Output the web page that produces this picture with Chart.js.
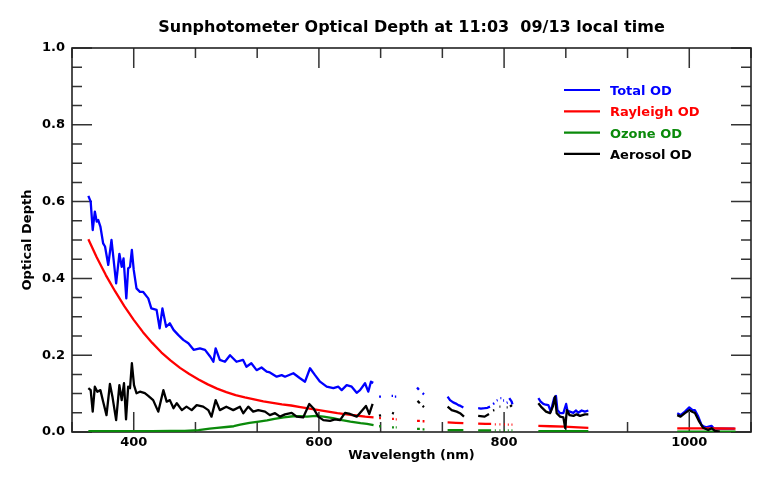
<!DOCTYPE html>
<html>
<head>
<meta charset="utf-8">
<title>Sunphotometer Optical Depth</title>
<script src="https://cdn.jsdelivr.net/npm/chart.js@4.4.1/dist/chart.umd.min.js"></script>
<style>
    html, body { margin: 0; padding: 0; background: #fff; }
    #wrap { width: 773px; height: 480px; position: relative; }
</style>
</head>
<body>
<div id="wrap"><canvas id="odChart"></canvas></div>
<script>
// valores (nm / profundidade óptica); null = sem dado
const titleText = 'Sunphotometer Optical Depth at 11:03  09/13 local time';
const seriesLabels = ['Total OD', 'Rayleigh OD', 'Ozone OD', 'Aerosol OD'];

const xRange = [1000 / 3, 3200 / 3];
const xTickValues = [400, 600, 800, 1000];
const yTickValues = [0.0, 0.2, 0.4, 0.6, 0.8, 1.0];

const wlTotal = [
    351, 353.5, 355.7, 358, 360, 361.7, 364, 367, 369, 372.5, 376, 381, 384.5, 387, 389, 392, 394, 396, 398, 400,
    403, 406.7, 410, 415.7, 419, 424.7, 428, 431, 435, 439, 443, 448, 453.5, 459, 464.7, 471.5, 477, 482.7, 486, 488.5,
    493, 498.5, 504, 511, 518, 521.7, 527, 532.7, 538, 543.6, 547, 554.4, 559.8, 563.4, 572.4, 579.6, 585, 590.4, 595.8, 601.2,
    608.4, 615.6, 621, 624.6, 630, 635.4, 640.8, 644.4, 649.8, 653.3, 656.2, 658.7, null,
    665, 667, null, 678.5, 680, null, 682, 683.5, null,
    706, 708, null, 712, 713.5, null,
    739, 741.6, 745, 748, 750.6, 753, 756, null,
    772, 775, 779, 782, 784.8, null, 788, 789.5, null, 792, 793, null, 796, 797, null, 799, 800, null,
    802.8, 803.8, null, 805.6, 808.2, 809, null,
    837, 839.5, 842.4, 845, 847.8, 850.4, 852.6, 854, 856, 857.6, 860.5, 864, 867, 868.3, 871, 874.8, 877.7, 880, 883.8, 887.3,
    891, null,
    987, 990.6, 995.3, 1000, 1003.6, 1006, 1009.7, 1013.3, 1016, 1018.7, 1021, 1024, 1026.6, 1030, 1035, 1040, 1045, 1049
];
const odTotal = [
    0.615, 0.600, 0.526, 0.574, 0.548, 0.552, 0.535, 0.491, 0.483, 0.435, 0.500, 0.387, 0.464, 0.430, 0.452, 0.348, 0.426, 0.430, 0.474, 0.422,
    0.374, 0.365, 0.365, 0.348, 0.322, 0.318, 0.270, 0.322, 0.274, 0.283, 0.266, 0.253, 0.240, 0.231, 0.214, 0.218, 0.214, 0.196, 0.183, 0.218,
    0.188, 0.183, 0.200, 0.183, 0.188, 0.170, 0.179, 0.161, 0.168, 0.157, 0.155, 0.144, 0.148, 0.144, 0.153, 0.140, 0.131, 0.166, 0.148, 0.131,
    0.118, 0.114, 0.118, 0.109, 0.122, 0.118, 0.102, 0.109, 0.127, 0.105, 0.131, 0.128, null,
    0.092, 0.092, null, 0.094, 0.094, null, 0.092, 0.092, null,
    0.116, 0.110, null, 0.101, 0.098, null,
    0.092, 0.083, 0.077, 0.074, 0.070, 0.068, 0.064, null,
    0.062, 0.061, 0.062, 0.063, 0.066, null, 0.073, 0.075, null, 0.082, 0.083, null, 0.088, 0.088, null, 0.082, 0.082, null,
    0.076, 0.077, null, 0.088, 0.079, 0.072, null,
    0.088, 0.079, 0.073, 0.071, 0.070, 0.053, 0.075, 0.088, 0.094, 0.057, 0.049, 0.049, 0.073, 0.057, 0.053, 0.050, 0.056, 0.050, 0.056, 0.053,
    0.056, null,
    0.049, 0.044, 0.053, 0.064, 0.057, 0.057, 0.040, 0.018, 0.014, 0.012, 0.014, 0.016, 0.009, 0.009, 0.009, 0.009, 0.009, 0.009
];

const wlRayleigh = [
    351, 360, 370, 380, 390, 400, 410, 420, 430, 440, 450, 460, 470, 480, 490, 500, 510, 520, 530, 540,
    550, 560, 570, 580, 590, 600, 610, 620, 630, 640, 650, 659, null,
    665, 667, null, 679, 681, null, 683, 684, null,
    706, 709, null, 712, 714, null,
    739, 748, 756, null,
    772, 780, 786, null, 790, 791, null, 795, 796, null, 800, 801, null, 804, 805, null, 808, 809, null,
    837, 850, 865, 880, 891, null,
    987, 1000, 1020, 1035, 1050
];
const odRayleigh = [
    0.502, 0.455, 0.408, 0.366, 0.327, 0.292, 0.260, 0.232, 0.207, 0.186, 0.167, 0.151, 0.137, 0.124, 0.113, 0.104, 0.096, 0.090, 0.085, 0.080,
    0.076, 0.072, 0.069, 0.065, 0.061, 0.057, 0.053, 0.049, 0.046, 0.043, 0.040, 0.038, null,
    0.036, 0.036, null, 0.034, 0.034, null, 0.033, 0.033, null,
    0.029, 0.029, null, 0.028, 0.028, null,
    0.025, 0.024, 0.023, null,
    0.022, 0.021, 0.021, null, 0.020, 0.020, null, 0.020, 0.020, null, 0.020, 0.020, null, 0.019, 0.019, null, 0.019, 0.019, null,
    0.016, 0.015, 0.014, 0.012, 0.011, null,
    0.0095, 0.0093, 0.0092, 0.0091, 0.009
];

const wlOzone = [
    351, 380, 400, 420, 440, 455, 470, 482, 490, 500, 508, 515, 525, 535, 544, 552, 562, 572, 580, 587,
    597, 605, 615, 625, 634, 645, 652, 659, null,
    665, 667, null, 679, 681, null, 683, 684, null,
    706, 709, null, 712, 714, null,
    739, 756, null,
    772, 786, null, 790, 791, null, 795, 796, null, 800, 801, null, 804, 805, null, 808, 809, null,
    837, 891, null,
    987, 1050
];
const odOzone = [
    0.002, 0.002, 0.002, 0.002, 0.003, 0.003, 0.005, 0.009, 0.011, 0.013, 0.015, 0.019, 0.024, 0.027, 0.030, 0.034, 0.038, 0.041, 0.041, 0.040,
    0.042, 0.040, 0.036, 0.031, 0.027, 0.023, 0.021, 0.018, null,
    0.015, 0.015, null, 0.012, 0.012, null, 0.012, 0.012, null,
    0.008, 0.008, null, 0.007, 0.007, null,
    0.005, 0.005, null,
    0.004, 0.004, null, 0.004, 0.004, null, 0.004, 0.004, null, 0.004, 0.004, null, 0.004, 0.004, null, 0.004, 0.004, null,
    0.002, 0.002, null,
    0.001, 0.001
];

const wlAerosol = [
    351, 353.5, 355.7, 358, 360.7, 364, 367, 370.6, 374.3, 377, 381, 384.5, 387, 389.5, 391.7, 394, 396, 398, 400.3, 403,
    406.7, 412, 415.7, 421, 426.5, 432, 435.6, 439, 443, 446.5, 452, 457, 462.6, 468, 475, 480.5, 484, 488.5, 493, 500,
    507.5, 514.7, 518.3, 523.7, 529, 534.5, 541.8, 547, 552.6, 558, 563.4, 570.6, 576, 583, 589.6, 594, 599.3, 604.8, 612, 617.4,
    622.8, 628.2, 633.6, 640.8, 646.2, 650.8, 654.4, 658, null,
    665, 667, null, 679, 681, null,
    706.5, 709, null, 712, 713.5, null,
    739, 743.4, 748.8, 752.4, 756.7, null,
    772, 779, 783.7, null, 788, 789.5, null, 795, 796, null, 802.8, 803.8, null, 806.4, 808.5, null,
    837, 840.6, 845.3, 849.6, 852.6, 855, 856.8, 860.5, 864, 866, 867.8, 870.7, 875, 878.3, 882, 887.3, 891, null,
    987, 990.6, 995.3, 1000, 1003.6, 1006, 1010.8, 1015, 1020.4, 1024, 1027.6, 1033
];
const odAerosol = [
    0.114, 0.109, 0.053, 0.118, 0.105, 0.109, 0.079, 0.044, 0.125, 0.092, 0.031, 0.122, 0.083, 0.127, 0.033, 0.118, 0.114, 0.179, 0.122, 0.101,
    0.105, 0.101, 0.094, 0.083, 0.053, 0.109, 0.079, 0.083, 0.062, 0.075, 0.057, 0.066, 0.057, 0.070, 0.066, 0.057, 0.040, 0.083, 0.057, 0.066,
    0.057, 0.066, 0.049, 0.066, 0.053, 0.057, 0.053, 0.044, 0.049, 0.040, 0.046, 0.050, 0.040, 0.038, 0.073, 0.062, 0.040, 0.031, 0.029, 0.033,
    0.031, 0.050, 0.047, 0.040, 0.055, 0.068, 0.047, 0.073, null,
    0.042, 0.044, null, 0.050, 0.048, null,
    0.081, 0.075, null, 0.068, 0.065, null,
    0.066, 0.057, 0.053, 0.049, 0.040, null,
    0.042, 0.040, 0.047, null, 0.056, 0.057, null, 0.066, 0.066, null, 0.064, 0.064, null, 0.066, 0.070, null,
    0.075, 0.064, 0.053, 0.049, 0.066, 0.092, 0.049, 0.040, 0.038, 0.010, 0.057, 0.044, 0.042, 0.046, 0.042, 0.046, 0.046, null,
    0.044, 0.040, 0.049, 0.057, 0.052, 0.050, 0.027, 0.011, 0.005, 0.010, 0.003, 0.001
];

const seriesColors = ['#0000ff', '#ff0000', '#0a8a0a', '#000000'];
const FONT = 'DejaVu Sans';

function toPoints(wl, od) {
    return wl.map(function (w, i) { return { x: w, y: od[i] }; });
}

// eixos estilo IDL: moldura completa com ticks para dentro
const frameTicks = {
    id: 'frameTicks',
    beforeDatasetsDraw(chart) {
        const { ctx, chartArea: a, scales: { x, y } } = chart;
        const minorX = 200 / 3;
        ctx.save();
        ctx.strokeStyle = '#333';
        ctx.lineWidth = 1.5;
        ctx.beginPath();
        for (let v = xRange[0]; v <= xRange[1] + 1e-6; v += minorX) {
            const px = x.getPixelForValue(v);
            const major = xTickValues.some(function (t) { return Math.abs(t - v) < 1e-6; });
            const len = major ? 20 : 10;
            ctx.moveTo(px, a.bottom); ctx.lineTo(px, a.bottom - len);
            ctx.moveTo(px, a.top); ctx.lineTo(px, a.top + len);
        }
        for (let k = 0; k <= 20; k++) {
            const v = k * 0.05;
            const py = y.getPixelForValue(v);
            const len = (k % 4 === 0) ? 20 : 10;
            ctx.moveTo(a.left, py); ctx.lineTo(a.left + len, py);
            ctx.moveTo(a.right, py); ctx.lineTo(a.right - len, py);
        }
        ctx.stroke();
        ctx.strokeStyle = '#222';
        ctx.lineWidth = 1.6;
        ctx.strokeRect(a.left, a.top, a.right - a.left, a.bottom - a.top);
        ctx.restore();
    }
};

// título centrado na área do gráfico + legenda dentro do gráfico
const titleAndLegend = {
    id: 'titleAndLegend',
    afterDraw(chart) {
        const { ctx, chartArea: a } = chart;
        ctx.save();
        ctx.fillStyle = '#000';
        ctx.font = 'bold 16px "' + FONT + '"';
        ctx.textAlign = 'center';
        ctx.textBaseline = 'alphabetic';
        ctx.fillText(titleText, (a.left + a.right) / 2, 32);

        ctx.font = 'bold 13px "' + FONT + '"';
        ctx.textAlign = 'left';
        chart.data.datasets.forEach(function (ds, i) {
            const yy = a.top + 42 + i * 21.3;
            const x0 = a.right - 187;
            ctx.strokeStyle = ds.borderColor;
            ctx.lineWidth = 2.2;
            ctx.beginPath();
            ctx.moveTo(x0, yy);
            ctx.lineTo(x0 + 36, yy);
            ctx.stroke();
            ctx.fillStyle = ds.borderColor;
            ctx.fillText(ds.label, x0 + 46, yy + 5);
        });
        ctx.restore();
    }
};

function createChart() {
    const el = document.getElementById('odChart');
    const wls = [wlTotal, wlRayleigh, wlOzone, wlAerosol];
    const ods = [odTotal, odRayleigh, odOzone, odAerosol];

    const datasets = seriesLabels.map(function (label, i) {
        return {
            label: label,
            data: toPoints(wls[i], ods[i]),
            borderColor: seriesColors[i],
            backgroundColor: seriesColors[i],
            borderWidth: 2.3,
            borderJoinStyle: 'round',
            pointRadius: 0,
            tension: 0,
            fill: false,
            spanGaps: false,
            order: 3 - i
        };
    });

    window._odChart = new Chart(el.getContext('2d'), {
        type: 'line',
        data: { datasets: datasets },
        options: {
            responsive: true,
            maintainAspectRatio: false,
            animation: false,
            layout: { padding: { left: 0, top: 48, right: 22, bottom: 0 } },
            plugins: {
                legend: { display: false },
                tooltip: { enabled: false },
                title: { display: false }
            },
            scales: {
                x: {
                    type: 'linear',
                    min: xRange[0],
                    max: xRange[1],
                    grid: { display: false, drawTicks: false },
                    border: { display: false },
                    afterBuildTicks: function (scale) {
                        scale.ticks = xTickValues.map(function (v) { return { value: v }; });
                    },
                    afterFit: function (scale) { scale.height = 48; },
                    ticks: {
                        autoSkip: false,
                        maxRotation: 0,
                        padding: 3,
                        color: '#000',
                        font: { family: FONT, size: 13, weight: 'bold' },
                        callback: function (v) { return String(v); }
                    },
                    title: {
                        display: true,
                        text: 'Wavelength (nm)',
                        color: '#000',
                        font: { family: FONT, size: 13, weight: 'bold' },
                        padding: { top: 0, bottom: 17 }
                    }
                },
                y: {
                    type: 'linear',
                    min: 0,
                    max: 1,
                    grid: { display: false, drawTicks: false },
                    border: { display: false },
                    afterBuildTicks: function (scale) {
                        scale.ticks = yTickValues.map(function (v) { return { value: v }; });
                    },
                    afterFit: function (scale) { scale.width = 72; },
                    ticks: {
                        padding: 7,
                        color: '#000',
                        font: { family: FONT, size: 13, weight: 'bold' },
                        callback: function (v) { return v.toFixed(1); }
                    },
                    title: {
                        display: true,
                        text: 'Optical Depth',
                        color: '#000',
                        font: { family: FONT, size: 13, weight: 'bold' },
                        padding: { top: 20, bottom: 0 }
                    }
                }
            }
        },
        plugins: [frameTicks, titleAndLegend]
    });
}

document.addEventListener('DOMContentLoaded', createChart);
</script>
</body>
</html>
